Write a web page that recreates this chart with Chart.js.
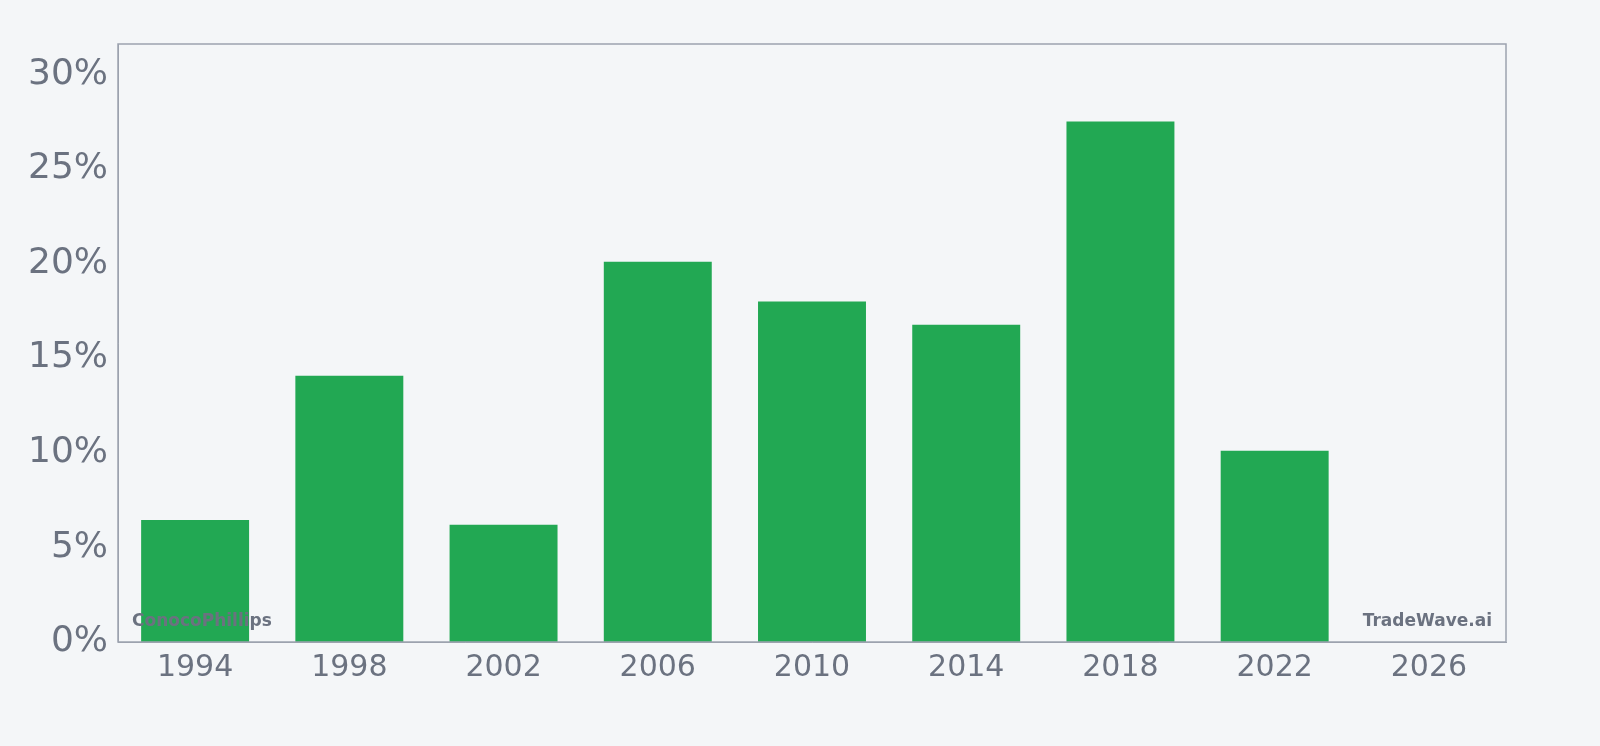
<!DOCTYPE html>
<html><head><meta charset="utf-8">
<script src="https://cdn.jsdelivr.net/npm/chart.js@4"></script>
<style>html,body{margin:0;background:#f4f6f8;}#w{position:relative;width:1600px;height:746px;}</style>
</head><body><div id="w"><canvas id="c" width="1600" height="746"></canvas></div>
<script>
const categories=["1994","1998","2002","2006","2010","2014","2018","2022","2026"];
const values=[6.45,14.07,6.19,20.1,17.99,16.77,27.5,10.1,null];
const yTicks=[0,5,10,15,20,25,30];
const wm={id:'wm',afterDraw(ch){const c=ch.ctx,a=ch.chartArea;c.save();c.font='bold 17px "DejaVu Sans"';c.fillStyle='#6b7280';c.textBaseline='bottom';c.textAlign='left';c.fillText('ConocoPhillips',a.left+14,a.bottom-12);c.textAlign='right';c.fillText('TradeWave.ai',a.right-14,a.bottom-12);c.restore();}};
new Chart(document.getElementById('c'),{type:'bar',data:{labels:categories,datasets:[{data:values,backgroundColor:'#22a853',categoryPercentage:0.7,barPercentage:1}]},
options:{responsive:false,animation:false,layout:{padding:{top:44,right:94,bottom:0,left:0}},plugins:{legend:{display:false},tooltip:{enabled:false}},
scales:{x:{offset:true,afterFit(ax){ax.height=104;},grid:{display:false,drawTicks:true,tickLength:6,tickColor:'#9ca3af'},border:{color:'#9ca3af'},ticks:{color:'#6b7280',font:{size:30,family:'DejaVu Sans'},padding:2}},
y:{min:0,max:31.6,afterFit(ax){ax.width=118;},afterBuildTicks(ax){ax.ticks=yTicks.map(v=>({value:v}));},grid:{display:false,tickLength:6,tickColor:'#9ca3af'},border:{color:'#9ca3af'},ticks:{color:'#6b7280',font:{size:36,family:'DejaVu Sans'},callback:v=>v+'%',padding:4}}}},
plugins:[wm,{id:'box',afterDraw(ch){const c=ch.ctx,a=ch.chartArea;c.save();c.strokeStyle='#9ca3af';c.lineWidth=1.5;c.strokeRect(a.left,a.top,a.right-a.left,a.bottom-a.top);c.restore();}}]});
</script></body></html>
